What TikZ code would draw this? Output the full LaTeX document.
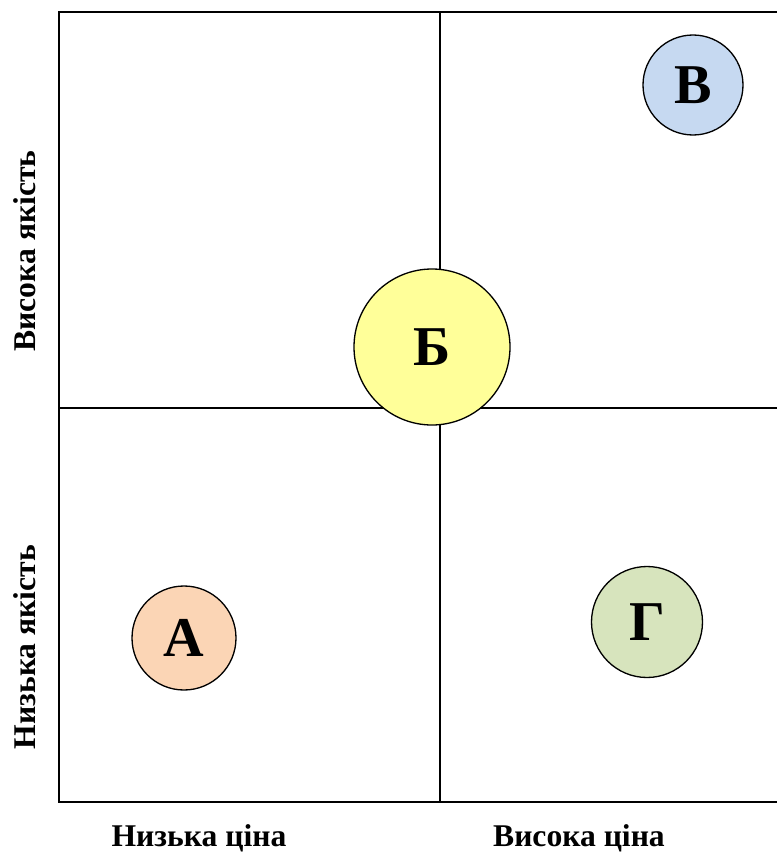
\documentclass[tikz,border=0pt]{standalone}
\usepackage{fontspec}
\setmainfont{Liberation Serif}
\usepackage{xcolor}

\definecolor{peach}{HTML}{FBD5B5}
\definecolor{lemon}{HTML}{FFFF99}
\definecolor{skyblue}{HTML}{C6D9F1}
\definecolor{sage}{HTML}{D7E4BD}

\begin{document}
\begin{tikzpicture}[x=0.02cm, y=-0.02cm,
    bubble/.style={circle, draw, line width=0.75pt, inner sep=0pt, font=\fontsize{32}{32}\selectfont\bfseries},
    axislabel/.style={font=\fontsize{18}{18}\selectfont\bfseries}]
    \useasboundingbox (0,0) rectangle (777,852);

    % grid
    \coordinate (tl) at (59,12);
    \coordinate (tr) at (777,12);
    \coordinate (bl) at (59,802);
    \coordinate (br) at (777,802);
    \coordinate (ml) at (59,408);
    \coordinate (mr) at (777,408);
    \coordinate (mt) at (440,12);
    \coordinate (mb) at (440,802);
    \draw[line width=1.1pt] (tr) -- (tl) -- (bl) -- (br);
    \draw[line width=0.85pt] (ml) -- (mr);
    \draw[line width=0.85pt] (mt) -- (mb);

    % bubbles
    \node[bubble, fill=lemon, minimum size=156*0.02cm] (b) at (432,347) {Б};
    \node[bubble, fill=skyblue, minimum size=100*0.02cm] (v) at (693,85) {В};
    \node[bubble, fill=peach, minimum size=104*0.02cm] (a) at (184,638) {А};
    \node[bubble, fill=sage, minimum size=111*0.02cm] (g) at (647,622) {Г};

    % axis labels
    \node[axislabel, rotate=90] (hiq) at (25,251) {Висока якість};
    \node[axislabel, rotate=90] (loq) at (25,647) {Низька якість};
    \node[axislabel] (lop) at (199,838) {Низька ціна};
    \node[axislabel] (hip) at (579,838) {Висока ціна};
\end{tikzpicture}
\end{document}
